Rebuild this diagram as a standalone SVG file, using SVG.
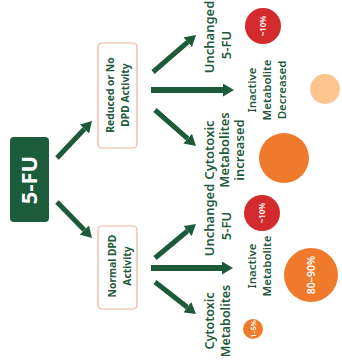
<svg xmlns="http://www.w3.org/2000/svg" width="342" height="362" viewBox="0 0 342 362">
<defs>
<style>
.lbl{font-family:"Noto Sans","Liberation Sans",sans-serif;font-size:13px;font-weight:600;fill:#1e5a3b;text-anchor:middle}
.lbs{font-family:"Noto Sans","Liberation Sans",sans-serif;font-size:11.5px;font-weight:600;fill:#1e5a3b;text-anchor:middle}
.box{fill:#ffffff;stroke:#ecb39c;stroke-width:1.2}
.btx{font-family:"Noto Sans","Liberation Sans",sans-serif;font-size:10.3px;font-weight:700;fill:#1e5a3b;text-anchor:middle}
.pct{font-family:"Noto Sans","Liberation Sans",sans-serif;font-weight:600;fill:#ffffff;text-anchor:middle}
.arr{stroke:#1c5a3a;stroke-width:5;fill:none;marker-end:url(#ah)}
.bar{stroke:#1c5a3a;stroke-width:6;fill:none;marker-end:url(#ah)}
</style>
<marker id="ah" markerUnits="userSpaceOnUse" markerWidth="11" markerHeight="13" viewBox="0 0 10 10" refX="0" refY="5" orient="auto" preserveAspectRatio="none">
<path d="M0,0 L10,5 L0,10 z" fill="#1c5a3a"/>
</marker>
</defs>
<rect width="342" height="362" fill="#ffffff"/>
<g id="connectors">
<line class="arr" x1="57" y1="158" x2="84.4" y2="129"/>
<line class="arr" x1="57" y1="202" x2="84.3" y2="230"/>
<line class="arr" x1="153" y1="72" x2="187.7" y2="42.2"/>
<line class="bar" x1="151" y1="90" x2="223" y2="90"/>
<line class="arr" x1="155" y1="110" x2="187.7" y2="138.7"/>
<line class="arr" x1="155" y1="258" x2="187.5" y2="231"/>
<line class="bar" x1="151" y1="268" x2="222" y2="268"/>
<line class="arr" x1="155" y1="282" x2="187.3" y2="307.2"/>
</g>
<g id="n-5fu">
<rect x="10" y="137" width="39" height="85" rx="4" fill="#1c5b3c"/>
<g transform="translate(37,180) rotate(-90)"><text x="0" y="0" font-family="'Noto Sans','Liberation Sans',sans-serif" font-size="22" font-weight="700" fill="#ffffff" text-anchor="middle">5-FU</text></g>
</g>
<g id="n-reduced">
<rect class="box" x="98" y="43" width="39" height="105" rx="4"/>
<g transform="translate(114,95) rotate(-90)">
<text class="btx" x="0" y="0">Reduced or No</text>
<text class="btx" x="0" y="15">DPD Activity</text>
</g>
</g>
<g id="n-normal">
<rect class="box" x="98" y="226" width="39" height="83" rx="4"/>
<g transform="translate(116,266) rotate(-90)">
<text class="btx" x="0" y="0">Normal DPD</text>
<text class="btx" x="0" y="15">Activity</text>
</g>
</g>
<g id="n-unchanged-1">
<g transform="translate(214,0) rotate(-90)">
<text class="lbl" x="-37" y="0">Unchanged</text>
<text class="lbl" x="-45" y="17">5-FU</text>
</g>
</g>
<g id="n-pct10-1">
<circle cx="263" cy="26" r="18" fill="#d32a2e"/>
<g transform="translate(266,26) rotate(-90)"><text class="pct" x="0" y="0" font-size="8">~10%</text></g>
</g>
<g id="n-inactive-1">
<g transform="translate(256,90) rotate(-90)">
<text class="lbs" x="0" y="0">Inactive</text>
<text class="lbs" x="0" y="15">Metabolite</text>
<text class="lbs" x="0" y="30">Decreased</text>
</g>
</g>
<g id="n-dot-light">
<circle cx="325" cy="89" r="15" fill="#fcc58f"/>
</g>
<g id="n-cyto-1">
<g transform="translate(214,150) rotate(-90)">
<text class="lbl" x="0" y="0">Cytotoxic</text>
<text class="lbl" x="0" y="15">Metabolites</text>
<text class="lbl" x="0" y="30">increased</text>
</g>
</g>
<g id="n-dot-orange">
<circle cx="284" cy="158" r="25" fill="#ef7a2b"/>
</g>
<g id="n-unchanged-2">
<g transform="translate(214,0) rotate(-90)">
<text class="lbl" x="-220" y="0">Unchanged</text>
<text class="lbl" x="-226" y="17">5-FU</text>
</g>
</g>
<g id="n-pct10-2">
<circle cx="262" cy="213" r="18" fill="#d32a2e"/>
<g transform="translate(265,213) rotate(-90)"><text class="pct" x="0" y="0" font-size="8">~10%</text></g>
</g>
<g id="n-inactive-2">
<g transform="translate(256,266) rotate(-90)">
<text class="lbs" x="0" y="0">Inactive</text>
<text class="lbs" x="0" y="15">Metabolite</text>
</g>
</g>
<g id="n-pct8090">
<circle cx="311" cy="275" r="27" fill="#ef7a2b"/>
<g transform="translate(315,275) rotate(-90)"><text class="pct" x="0" y="0" font-size="10.5">80–90%</text></g>
</g>
<g id="n-cyto-2">
<g transform="translate(214,321) rotate(-90)">
<text class="lbl" x="0" y="0" style="font-size:12.5px">Cytotoxic</text>
<text class="lbl" x="0" y="16" style="font-size:12.5px">Metabolites</text>
</g>
</g>
<g id="n-pct15">
<circle cx="253" cy="329" r="10" fill="#ef7a2b"/>
<g transform="translate(255.5,329) rotate(-90)"><text class="pct" x="0" y="0" font-size="7">1–5%</text></g>
</g>
</svg>
